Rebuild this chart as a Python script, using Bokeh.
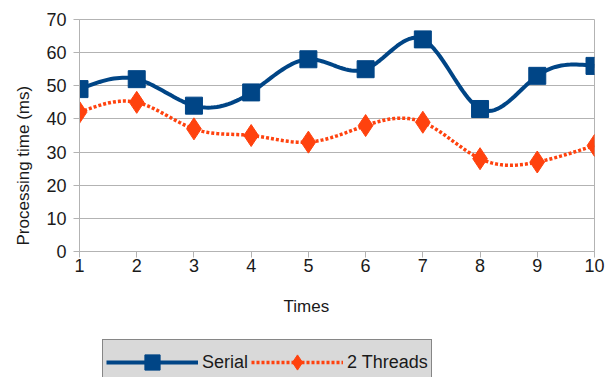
import numpy as np
from bokeh.plotting import figure
from bokeh.layouts import column
from bokeh.models import Legend, LegendItem, Range1d, FixedTicker, Title
from bokeh.embed import file_html
from bokeh.resources import INLINE

# Run index and measured processing times (ms)
times = [1, 2, 3, 4, 5, 6, 7, 8, 9, 10]
serial_ms = [49, 52, 44, 48, 58, 55, 64, 43, 53, 56]
threads_ms = [42, 45, 37, 35, 33, 38, 39, 28, 27, 32]

SERIAL_COLOR = "#004586"
THREADS_COLOR = "#ff420e"
FONT = "Liberation Sans"
TEXT_COLOR = "#1a1a1a"
GRID_COLOR = "#b3b3b3"


def natural_spline(x, y, steps=20):
    """Smooth path through the points with a natural cubic spline."""
    x = np.asarray(x, dtype=float)
    y = np.asarray(y, dtype=float)
    n = len(x)
    h = np.diff(x)
    A = np.zeros((n, n))
    b = np.zeros(n)
    A[0, 0] = A[-1, -1] = 1.0
    for i in range(1, n - 1):
        A[i, i - 1] = h[i - 1]
        A[i, i] = 2 * (h[i - 1] + h[i])
        A[i, i + 1] = h[i]
        b[i] = 3 * ((y[i + 1] - y[i]) / h[i] - (y[i] - y[i - 1]) / h[i - 1])
    c = np.linalg.solve(A, b)
    xs, ys = [], []
    for i in range(n - 1):
        bi = (y[i + 1] - y[i]) / h[i] - h[i] * (2 * c[i] + c[i + 1]) / 3
        di = (c[i + 1] - c[i]) / (3 * h[i])
        t = np.linspace(0, h[i], steps, endpoint=(i == n - 2))
        xs.extend(x[i] + t)
        ys.extend(y[i] + bi * t + c[i] * t ** 2 + di * t ** 3)
    return xs, ys


def draw_series(fig, xs_line, ys_line, xs_pts, ys_pts, sq_size, dia_size):
    """Draw both series (smoothed line + markers) on a figure."""
    s_line = fig.line(xs_line[0], ys_line[0], line_color=SERIAL_COLOR,
                      line_width=4)
    s_mark = fig.scatter(xs_pts, ys_pts[0], marker="square", size=sq_size,
                         fill_color=SERIAL_COLOR, line_color=SERIAL_COLOR)
    t_line = fig.line(xs_line[1], ys_line[1], line_color=THREADS_COLOR,
                      line_width=3.5, line_dash="3 2")
    t_mark = fig.scatter(xs_pts, ys_pts[1], marker="diamond", size=dia_size,
                         fill_color=THREADS_COLOR, line_color=THREADS_COLOR)
    return s_line, s_mark, t_line, t_mark


# ---- main chart ----
p = figure(
    width=605, height=330,
    output_backend="svg", toolbar_location=None,
    x_range=Range1d(1, 10), y_range=Range1d(0, 70),
    min_border_left=79, min_border_right=11,
    min_border_top=19, min_border_bottom=79,
    background_fill_color="white", border_fill_color="white",
    outline_line_color=GRID_COLOR,
)
p.frame_width = 515
p.frame_height = 232

p.xaxis.ticker = FixedTicker(ticks=times)
p.yaxis.ticker = FixedTicker(ticks=list(range(0, 71, 10)))
for ax in (p.xaxis[0], p.yaxis[0]):
    ax.axis_line_color = GRID_COLOR
    ax.major_tick_line_color = GRID_COLOR
    ax.major_tick_out = 6
    ax.major_tick_in = 0
    ax.minor_tick_line_color = None
    ax.major_label_text_font = FONT
    ax.major_label_text_font_size = "18px"
    ax.major_label_text_color = TEXT_COLOR
p.xaxis.major_label_standoff = 1
p.yaxis.major_label_standoff = 7

p.xgrid.grid_line_color = None
p.ygrid.grid_line_color = GRID_COLOR
p.ygrid.grid_line_width = 1

ytitle = Title(text="Processing time (ms)", align="left", offset=6,
               standoff=22, text_font=FONT, text_font_size="17px",
               text_font_style="normal", text_color=TEXT_COLOR)
p.add_layout(ytitle, "left")
xtitle = Title(text="Times", align="left", offset=204,
               standoff=40, text_font=FONT, text_font_size="17px",
               text_font_style="normal", text_color=TEXT_COLOR)
p.add_layout(xtitle, "below")

sx, sy = natural_spline(times, serial_ms)
tx, ty = natural_spline(times, threads_ms)
draw_series(p, (sx, tx), (sy, ty), times, (serial_ms, threads_ms), 17, 22)

# ---- legend strip underneath ----
# The series are drawn again here outside the visible range, only so the
# legend has renderers of its own to take its swatches from.
lg = figure(
    width=605, height=47,
    output_backend="svg", toolbar_location=None,
    x_range=Range1d(100, 101), y_range=Range1d(100, 101),
    min_border=0, outline_line_color=None,
    background_fill_color="white", border_fill_color="white",
)
lg.axis.visible = False
lg.grid.visible = False
ls_line, ls_mark, lt_line, lt_mark = draw_series(
    lg, (sx, tx), (sy, ty), times, (serial_ms, threads_ms), 13, 17)

legend = Legend(
    items=[
        LegendItem(label="Serial", renderers=[ls_line, ls_mark]),
        LegendItem(label="2 Threads", renderers=[lt_line, lt_mark]),
    ],
    orientation="horizontal",
    location=(23, -3),
    glyph_width=92, glyph_height=38,
    label_standoff=4, spacing=3, padding=3, margin=0,
    label_text_font=FONT, label_text_font_size="18px",
    label_text_color=TEXT_COLOR,
    background_fill_color="#d9d9d9", background_fill_alpha=1,
    border_line_color="#333333", border_line_width=1.5,
)
lg.add_layout(legend, "center")

layout = column(p, lg, spacing=0)
open("out.html", "w").write(file_html(layout, INLINE))
